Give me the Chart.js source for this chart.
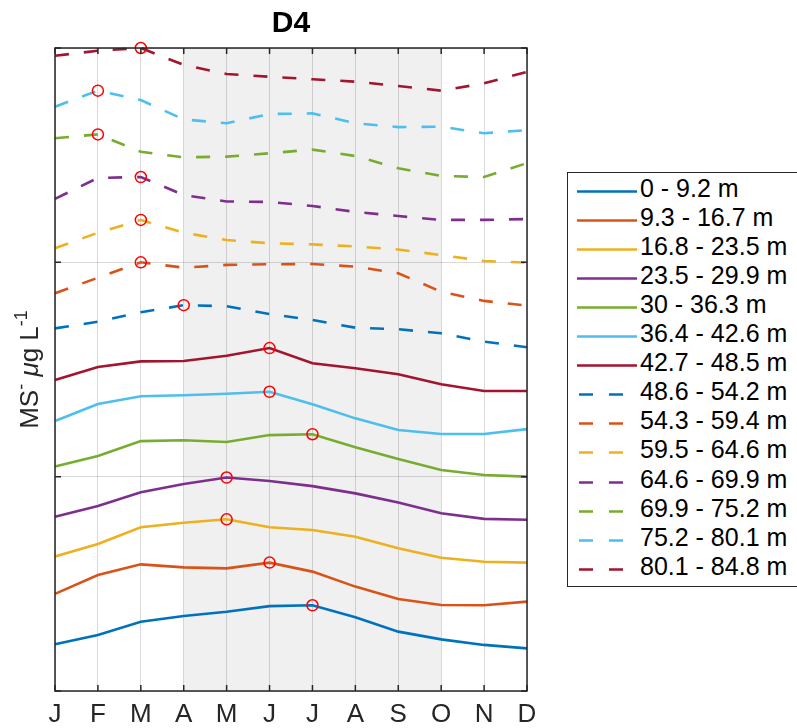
<!DOCTYPE html>
<html>
<head>
<meta charset="utf-8">
<title>D4</title>
<script src="https://cdn.jsdelivr.net/npm/chart.js@4.4.0/dist/chart.umd.min.js"></script>
<style>
  html, body { margin: 0; padding: 0; background: #fff; }
  #wrap { position: relative; width: 797px; height: 728px; overflow: hidden; }
  #legend {
    position: absolute; left: 567px; top: 172px; width: 250px; height: 415px;
    border: 1.5px solid #262626; background: #fff; box-sizing: border-box;
    font-family: "Liberation Sans", Arial, sans-serif; font-size: 25px; color: #000;
  }
  .row { position: absolute; left: 0; height: 29px; width: 100%; }
  .row svg { position: absolute; left: 0; top: 0; }
  .row span { position: absolute; left: 72px; top: -3px; line-height: 29px; white-space: nowrap; }
</style>
</head>
<body>
<div id="wrap">
  <canvas id="chart" width="797" height="728"></canvas>
  <div id="legend"></div>
</div>
<script>
// months on the x axis
const months = ['J', 'F', 'M', 'A', 'M', 'J', 'J', 'A', 'S', 'O', 'N', 'D'];

// depth bins (legend)
const depthBins = [
  '0 - 9.2 m', '9.3 - 16.7 m', '16.8 - 23.5 m', '23.5 - 29.9 m', '30 - 36.3 m',
  '36.4 - 42.6 m', '42.7 - 48.5 m', '48.6 - 54.2 m', '54.3 - 59.4 m', '59.5 - 64.6 m',
  '64.6 - 69.9 m', '69.9 - 75.2 m', '75.2 - 80.1 m', '80.1 - 84.8 m'
];

// y axis ticks (no labels shown)
const yTicks = [0, 1, 2, 3];

// shaded season, April .. October
const shadeFrom = 'A';
const shadeTo = 'O';

// series values, one per depth bin (offset profiles)
const bin01 = [0.218, 0.261, 0.323, 0.350, 0.370, 0.396, 0.400, 0.344, 0.277, 0.241, 0.215, 0.199];
const bin02 = [0.453, 0.541, 0.591, 0.577, 0.572, 0.599, 0.557, 0.487, 0.429, 0.401, 0.400, 0.417];
const bin03 = [0.627, 0.686, 0.764, 0.785, 0.801, 0.764, 0.751, 0.720, 0.666, 0.622, 0.603, 0.599];
const bin04 = [0.813, 0.863, 0.927, 0.966, 0.996, 0.980, 0.956, 0.922, 0.879, 0.829, 0.803, 0.799];
const bin05 = [1.047, 1.096, 1.166, 1.170, 1.162, 1.194, 1.198, 1.137, 1.082, 1.031, 1.008, 1.000];
const bin06 = [1.260, 1.339, 1.375, 1.380, 1.387, 1.396, 1.338, 1.272, 1.218, 1.199, 1.199, 1.222];
const bin07 = [1.451, 1.512, 1.538, 1.540, 1.564, 1.600, 1.529, 1.506, 1.478, 1.431, 1.400, 1.400];
const bin08 = [1.692, 1.723, 1.767, 1.800, 1.795, 1.759, 1.731, 1.695, 1.688, 1.669, 1.630, 1.604];
const bin09 = [1.856, 1.928, 2.000, 1.975, 1.988, 1.991, 1.992, 1.980, 1.949, 1.863, 1.820, 1.798];
const bin10 = [2.066, 2.138, 2.198, 2.138, 2.104, 2.089, 2.084, 2.074, 2.060, 2.034, 2.006, 1.999];
const bin11 = [2.296, 2.394, 2.398, 2.314, 2.284, 2.282, 2.263, 2.235, 2.216, 2.198, 2.198, 2.202];
const bin12 = [2.579, 2.597, 2.516, 2.490, 2.493, 2.509, 2.526, 2.496, 2.439, 2.403, 2.398, 2.463];
const bin13 = [2.726, 2.801, 2.757, 2.667, 2.649, 2.692, 2.695, 2.649, 2.631, 2.633, 2.602, 2.617];
const bin14 = [2.964, 2.987, 3.000, 2.921, 2.879, 2.866, 2.854, 2.843, 2.823, 2.801, 2.835, 2.889];

const allBins = [bin01, bin02, bin03, bin04, bin05, bin06, bin07, bin08, bin09, bin10, bin11, bin12, bin13, bin14];

// matlab default line colours
const palette = ['#0072BD', '#D95319', '#EDB120', '#7E2F8E', '#77AC30', '#4DBEEE', '#A2142F'];
const dash = [14, 15];
const axisColor = '#262626';
const gridColor = 'rgba(38,38,38,0.17)';

const datasets = allBins.map((vals, i) => {
  // red circle on the maximum of each profile
  const maxIdx = vals.indexOf(Math.max(...vals));
  return {
    label: depthBins[i],
    data: vals,
    borderColor: palette[i % 7],
    borderWidth: 2.6,
    borderDash: i >= 7 ? dash : [],
    tension: 0,
    fill: false,
    clip: false,
    pointRadius: vals.map((v, k) => k === maxIdx ? 5.5 : 0),
    pointBorderColor: '#ff0000',
    pointBackgroundColor: 'rgba(0,0,0,0)',
    pointBorderWidth: 1.5
  };
});

const framePlugin = {
  id: 'frame',
  beforeDraw(chart) {
    const { ctx, chartArea: a, scales: { x } } = chart;
    const x0 = x.getPixelForValue(months.indexOf(shadeFrom));
    const x1 = x.getPixelForValue(months.lastIndexOf(shadeTo));
    ctx.save();
    ctx.fillStyle = '#f0f0f0';
    ctx.fillRect(x0, a.top, x1 - x0, a.bottom - a.top);
    ctx.restore();
  },
  afterDraw(chart) {
    const { ctx, chartArea: a, scales: { x, y } } = chart;
    ctx.save();
    ctx.strokeStyle = axisColor;
    ctx.lineWidth = 1.5;
    ctx.strokeRect(a.left, a.top, a.right - a.left, a.bottom - a.top);

    // inward tick marks
    ctx.beginPath();
    months.forEach((m, i) => {
      const px = x.getPixelForValue(i);
      ctx.moveTo(px, a.bottom); ctx.lineTo(px, a.bottom - 6);
      ctx.moveTo(px, a.top); ctx.lineTo(px, a.top + 6);
    });
    yTicks.forEach(t => {
      const py = y.getPixelForValue(t);
      ctx.moveTo(a.left, py); ctx.lineTo(a.left + 6, py);
      ctx.moveTo(a.right, py); ctx.lineTo(a.right - 6, py);
    });
    ctx.stroke();

    // title
    ctx.fillStyle = '#000';
    ctx.font = 'bold 30px "Liberation Sans", Arial, sans-serif';
    ctx.textAlign = 'center';
    ctx.textBaseline = 'middle';
    ctx.fillText('D4', (a.left + a.right) / 2, 24);

    // y label with superscripts
    const base = '"Liberation Sans", Arial, sans-serif';
    const parts = [
      { t: 'MS', f: '26px ' + base, dy: 0 },
      { t: '-', f: '18px ' + base, dy: -11 },
      { t: ' ', f: '26px ' + base, dy: 0 },
      { t: '\u03BC', f: 'italic 26px ' + base, dy: 0 },
      { t: 'g L', f: '26px ' + base, dy: 0 },
      { t: '-1', f: '18px ' + base, dy: -11 }
    ];
    let total = 0;
    parts.forEach(p => { ctx.font = p.f; p.w = ctx.measureText(p.t).width; total += p.w; });
    ctx.translate(38, (a.top + a.bottom) / 2);
    ctx.rotate(-Math.PI / 2);
    ctx.fillStyle = axisColor;
    ctx.textAlign = 'left';
    ctx.textBaseline = 'alphabetic';
    let cx = -total / 2;
    parts.forEach(p => {
      ctx.font = p.f;
      ctx.fillText(p.t, cx, p.dy);
      cx += p.w;
    });
    ctx.restore();
  }
};

new Chart(document.getElementById('chart').getContext('2d'), {
  type: 'line',
  data: { labels: months, datasets: datasets },
  options: {
    responsive: false,
    animation: false,
    events: [],
    layout: { padding: { left: 55, right: 270, top: 48, bottom: 0 } },
    plugins: { legend: { display: false }, tooltip: { enabled: false } },
    scales: {
      x: {
        offset: false,
        grid: { color: gridColor, lineWidth: 1, drawTicks: false },
        border: { display: false },
        ticks: {
          color: axisColor, padding: 8, autoSkip: false, maxRotation: 0,
          font: { family: '"Liberation Sans", Arial, sans-serif', size: 26 }
        },
        afterFit: s => { s.height = 37; }
      },
      y: {
        min: yTicks[0],
        max: yTicks[yTicks.length - 1],
        grid: { color: gridColor, lineWidth: 1, drawTicks: false },
        border: { display: false },
        ticks: { display: false, stepSize: 1 },
        afterFit: s => { s.width = 0; }
      }
    }
  },
  plugins: [framePlugin]
});

// html legend
const legend = document.getElementById('legend');
depthBins.forEach((name, i) => {
  const row = document.createElement('div');
  row.className = 'row';
  row.style.top = (4 + i * 29.05) + 'px';
  const col = palette[i % 7];
  const da = i >= 7 ? 'stroke-dasharray="14 16"' : '';
  row.innerHTML = '<svg width="72" height="29"><line x1="' + (i >= 7 ? 11 : 9) + '" y1="14.5" x2="69" y2="14.5" stroke="' + col +
    '" stroke-width="2.6" ' + da + '/></svg><span>' + name + '</span>';
  legend.appendChild(row);
});
</script>
</body>
</html>
